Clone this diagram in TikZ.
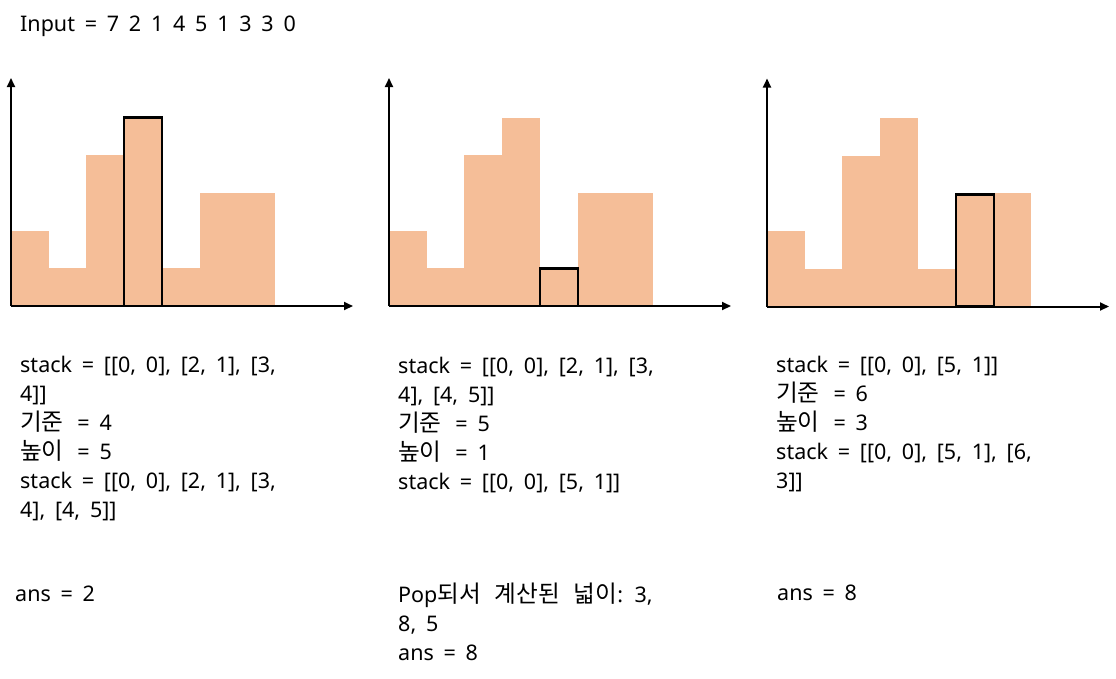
\documentclass[tikz,border=0pt]{standalone}
\usepackage{fontspec}
\setmainfont[WordSpace=1.75]{Noto Sans}
\newfontfamily\kr[WordSpace=2.6,Scale=1.1]{Noto Sans CJK KR}
\usetikzlibrary{arrows.meta,calc}
\definecolor{barfill}{HTML}{F5BE98}
\newcommand\drawchart[3]{%
  \coordinate (#3o) at (#1,#2);
  \foreach \h [count=\i from 0] in {2,1,4,5,1,3,3}{
    \fill[barfill] ($(#3o)+(\i*37.7,0)$) rectangle ++(37.7,-\h*37.7);
  }
  \coordinate (#3y) at ($(#3o)+(0,-228)$);
  \coordinate (#3x) at ($(#3o)+(342,0)$);
  \draw[axis] (#3o) -- (#3y);
  \draw[axis] (#3o) -- (#3x);
}
\begin{document}
\begin{tikzpicture}[x=1pt,y=-1pt,
  axis/.style={line width=2pt,-{Triangle[length=9pt,width=8pt]}},
  hl/.style={draw=black,line width=2.4pt},
  txt/.style={inner sep=0pt,anchor=base west,align=left,font=\fontsize{21.5}{29}\selectfont}]
\useasboundingbox (0,0) rectangle (1116,678);
\node[txt] (input) at (20,31) {Input = 7 2 1 4 5 1 3 3 0};
\drawchart{11}{306}{a}
\drawchart{389}{306}{b}
\drawchart{767}{306.5}{c}
\draw[hl] (124,306) rectangle (162,117.5);
\draw[hl] (540,306) rectangle (578,268.3);
\draw[hl] (956,306.5) rectangle (994,194.4);
% multi-line nodes: the base anchor sits on the last line
\node[txt] (t1) at (20,517) {stack = [[0, 0], [2, 1], [3,\\4]]\\{\kr 기준 }= 4\\{\kr 높이 }= 5\\stack = [[0, 0], [2, 1], [3,\\4], [4, 5]]};
\node[txt] (a1) at (15,601) {ans = 2};
\node[txt] (t2) at (398,489) {stack = [[0, 0], [2, 1], [3,\\4], [4, 5]]\\{\kr 기준 }= 5\\{\kr 높이 }= 1\\stack = [[0, 0], [5, 1]]};
\node[txt] (a2) at (398,660) {Pop{\kr 되서 계산된 넓이}: 3,\\8, 5\\ans = 8};
\node[txt] (t3) at (776,488) {stack = [[0, 0], [5, 1]]\\{\kr 기준 }= 6\\{\kr 높이 }= 3\\stack = [[0, 0], [5, 1], [6,\\3]]};
\node[txt] (a3) at (777,600) {ans = 8};
\end{tikzpicture}
\end{document}
